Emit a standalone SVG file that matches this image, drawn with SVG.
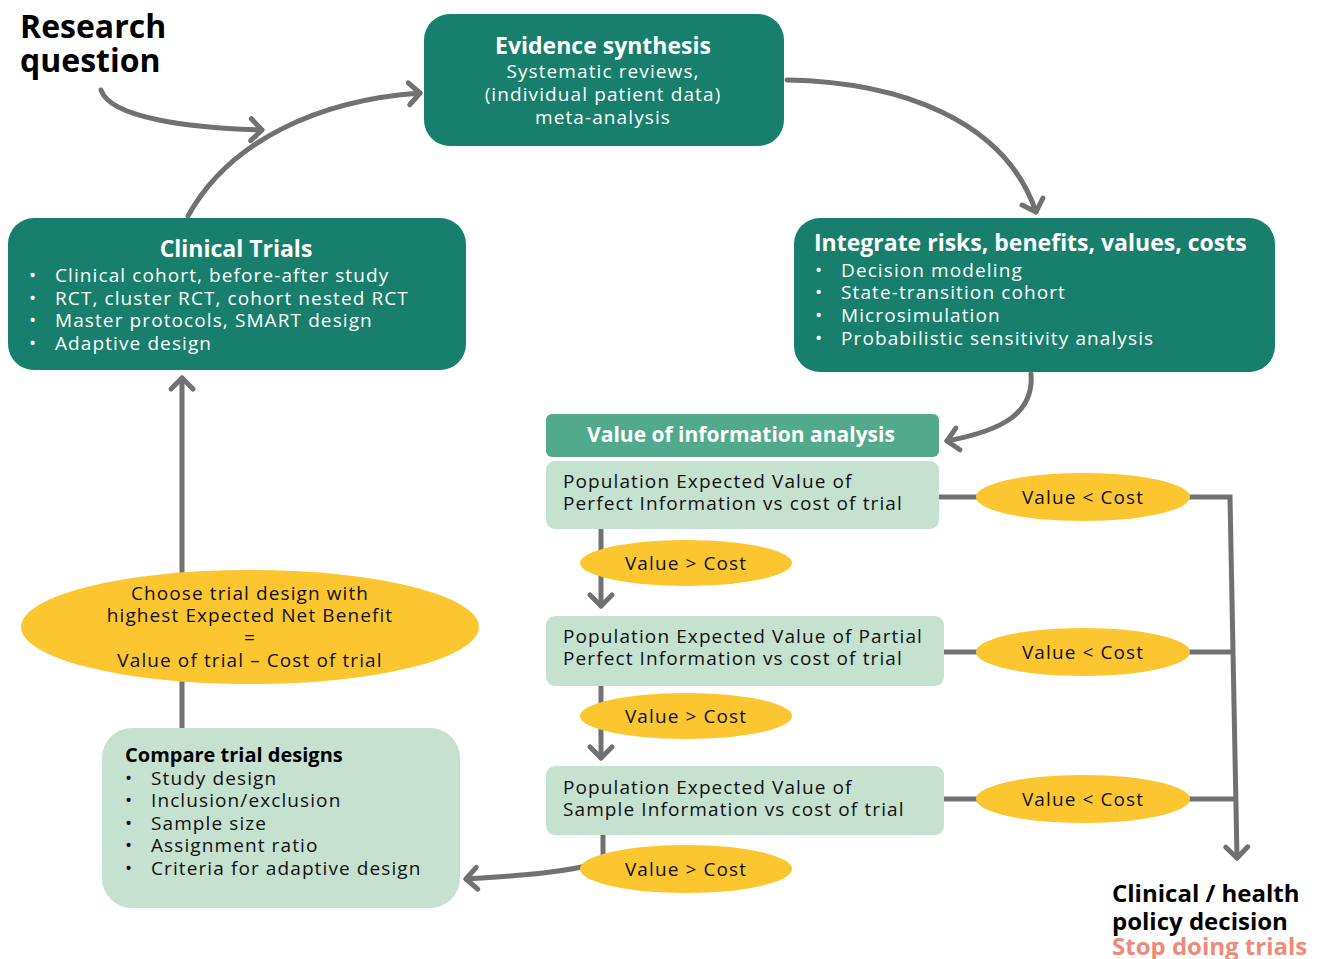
<svg xmlns="http://www.w3.org/2000/svg" width="1322" height="959" viewBox="0 0 1322 959">
<defs>
<style>
text{font-family:"Open Sans","Noto Sans","DejaVu Sans",sans-serif;}
.dark{fill:#177F6B;}
.light{fill:#C5E1CF;}
.yel{fill:#FCC630;}
.w{fill:#fff;font-size:19px;letter-spacing:1.1px;}
.wt{fill:#fff;font-size:23px;font-weight:bold;}
.b{fill:#111;font-size:19px;letter-spacing:1.1px;}
.bt{fill:#000;font-size:24px;font-weight:bold;}
.conn path{fill:none;stroke:#717171;stroke-width:5;stroke-linecap:round;}
</style>
<marker id="ch" markerWidth="30" markerHeight="30" viewBox="-15 -15 30 30" refX="0" refY="0" orient="auto" markerUnits="userSpaceOnUse" overflow="visible">
<path d="M-11,-11 L0,0 L-11,11" fill="none" stroke="#717171" stroke-width="5" stroke-linecap="round" stroke-linejoin="round"/>
</marker>
</defs>
<rect width="1322" height="959" fill="#fff"/>

<g class="conn">
<path d="M101,90 C110,118 190,128 262,130" marker-end="url(#ch)"/>
<path d="M188,216 C230,140 320,100 420,93" marker-end="url(#ch)"/>
<path d="M787,80 C900,82 1005,120 1036,212" marker-end="url(#ch)"/>
<path d="M1031,374 C1034,412 1005,430 947,441" marker-end="url(#ch)"/>
<path d="M601,530 L601,606" marker-end="url(#ch)"/>
<path d="M601,686 L601,758" marker-end="url(#ch)"/>
<path d="M603,835 L603,862 C560,874 510,876 466,879" marker-end="url(#ch)"/>
<path d="M182,728 L182,378" marker-end="url(#ch)"/>
<path d="M939,497 L980,497"/>
<path d="M944,652 L980,652"/>
<path d="M944,799 L980,799"/>
<path d="M1188,497 L1230,497 L1237,858" marker-end="url(#ch)"/>
<path d="M1188,652 L1232,652"/>
<path d="M1188,799 L1235,799"/>
</g>

<g id="research-question">
<text x="20" y="38" class="bt" style="font-size:32px">Research</text>
<text x="20" y="72" class="bt" style="font-size:32px">question</text>
</g>

<g id="evidence-synthesis">
<rect x="424" y="14" width="360" height="132" rx="26" class="dark"/>
<text x="603" y="54" class="wt" text-anchor="middle">Evidence synthesis</text>
<text x="603" y="78" class="w" text-anchor="middle">Systematic reviews,</text>
<text x="603" y="101" class="w" text-anchor="middle">(individual patient data)</text>
<text x="603" y="124" class="w" text-anchor="middle">meta-analysis</text>
</g>

<g id="integrate">
<rect x="794" y="218" width="481" height="154" rx="26" class="dark"/>
<text x="814" y="251" class="wt">Integrate risks, benefits, values, costs</text>
<text x="815" y="277" class="w">•</text><text x="841" y="277" class="w">Decision modeling</text>
<text x="815" y="299" class="w">•</text><text x="841" y="299" class="w">State-transition cohort</text>
<text x="815" y="322" class="w">•</text><text x="841" y="322" class="w">Microsimulation</text>
<text x="815" y="345" class="w">•</text><text x="841" y="345" class="w">Probabilistic sensitivity analysis</text>
</g>

<g id="clinical-trials">
<rect x="8" y="218" width="458" height="152" rx="26" class="dark"/>
<text x="236" y="257" class="wt" text-anchor="middle">Clinical Trials</text>
<text x="29" y="282" class="w">•</text><text x="55" y="282" class="w">Clinical cohort, before-after study</text>
<text x="29" y="305" class="w">•</text><text x="55" y="305" class="w">RCT, cluster RCT, cohort nested RCT</text>
<text x="29" y="327" class="w">•</text><text x="55" y="327" class="w">Master protocols, SMART design</text>
<text x="29" y="350" class="w">•</text><text x="55" y="350" class="w">Adaptive design</text>
</g>

<g id="voi">
<rect x="546" y="414" width="393" height="43" rx="6" fill="#52AA8C"/>
<text x="741" y="442" class="wt" style="font-size:21px" text-anchor="middle">Value of information  analysis</text>
</g>

<g id="pevpi">
<rect x="546" y="461" width="393" height="68" rx="9" class="light"/>
<text x="563" y="488" class="b">Population Expected Value of</text>
<text x="563" y="510" class="b">Perfect Information vs cost of trial</text>
</g>

<g id="pevppi">
<rect x="546" y="616" width="398" height="70" rx="9" class="light"/>
<text x="563" y="643" class="b">Population Expected Value of Partial</text>
<text x="563" y="665" class="b">Perfect Information vs cost of trial</text>
</g>

<g id="pevsi">
<rect x="546" y="766" width="398" height="69" rx="9" class="light"/>
<text x="563" y="794" class="b">Population Expected Value of</text>
<text x="563" y="816" class="b">Sample Information vs cost of trial</text>
</g>

<g id="gt1"><ellipse cx="686" cy="563" rx="106" ry="23" class="yel"/><text x="686" y="570" class="b" text-anchor="middle">Value &gt; Cost</text></g>
<g id="gt2"><ellipse cx="686" cy="716" rx="106" ry="23" class="yel"/><text x="686" y="723" class="b" text-anchor="middle">Value &gt; Cost</text></g>
<g id="gt3"><ellipse cx="686" cy="869" rx="106" ry="24" class="yel"/><text x="686" y="876" class="b" text-anchor="middle">Value &gt; Cost</text></g>
<g id="lt1"><ellipse cx="1083" cy="497" rx="107" ry="24" class="yel"/><text x="1083" y="504" class="b" text-anchor="middle">Value &lt; Cost</text></g>
<g id="lt2"><ellipse cx="1083" cy="652" rx="107" ry="24" class="yel"/><text x="1083" y="659" class="b" text-anchor="middle">Value &lt; Cost</text></g>
<g id="lt3"><ellipse cx="1083" cy="799" rx="107" ry="24" class="yel"/><text x="1083" y="806" class="b" text-anchor="middle">Value &lt; Cost</text></g>

<g id="decision">
<text x="1112" y="902" class="bt">Clinical / health</text>
<text x="1112" y="930" class="bt">policy decision</text>
<text x="1112" y="955" class="bt" style="fill:#F08A78">Stop doing trials</text>
</g>

<g id="choose">
<ellipse cx="250" cy="627" rx="229" ry="57" class="yel"/>
<text x="250" y="600" class="b" text-anchor="middle">Choose trial design with</text>
<text x="250" y="622" class="b" text-anchor="middle">highest Expected Net Benefit</text>
<text x="250" y="644" class="b" text-anchor="middle">=</text>
<text x="250" y="667" class="b" text-anchor="middle">Value of trial – Cost of trial</text>
</g>

<g id="compare">
<rect x="102" y="728" width="358" height="180" rx="30" class="light"/>
<text x="125" y="762" style="font-weight:bold;font-size:20px;fill:#000">Compare trial designs</text>
<text x="125" y="785" class="b">•</text><text x="151" y="785" class="b">Study design</text>
<text x="125" y="807" class="b">•</text><text x="151" y="807" class="b">Inclusion/exclusion</text>
<text x="125" y="830" class="b">•</text><text x="151" y="830" class="b">Sample size</text>
<text x="125" y="852" class="b">•</text><text x="151" y="852" class="b">Assignment ratio</text>
<text x="125" y="875" class="b">•</text><text x="151" y="875" class="b">Criteria for adaptive design</text>
</g>
</svg>
